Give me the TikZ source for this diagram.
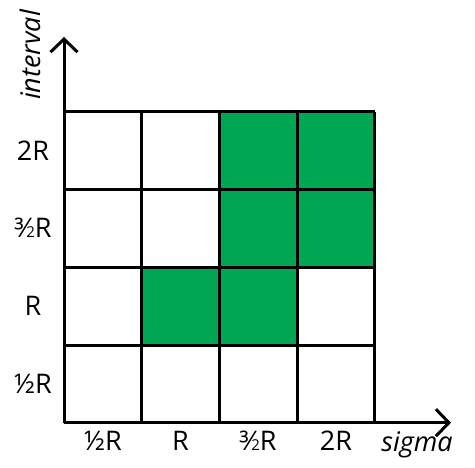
\documentclass[tikz,border=0pt]{standalone}
\usepackage{fontspec}
\setmainfont{Open Sans}
\usetikzlibrary{arrows.meta}
\definecolor{cellgreen}{HTML}{00A651}
\newcommand{\thrhalf}{³\kern-0.02em⁄\kern-0.02em{\fontsize{15}{15}\selectfont 2}}
\begin{document}
\begin{tikzpicture}[x=1pt,y=-1pt,
  gridline/.style={line width=3pt},
  axisline/.style={line width=3pt,-{Straight Barb[length=13pt,width=27pt,line width=3pt]}},
  lab/.style={font=\fontsize{27}{32}\selectfont,inner sep=0pt},
  axlab/.style={font=\fontsize{27}{32}\selectfont\itshape,inner sep=0pt}]
\useasboundingbox (0,0) rectangle (475,468);
\def\cw{77.7}
% green cells
\foreach \c/\r in {2/3,3/3,2/2,3/2,1/1,2/1}{
  \fill[cellgreen] (64+\c*\cw,422.7-\r*\cw-\cw) rectangle (64+\c*\cw+\cw,422.7-\r*\cw);
}
% grid
\foreach \i in {1,2,3,4}{
  \draw[gridline] (64+\i*\cw,112) -- (64+\i*\cw,422.7);
}
\foreach \i in {0,1,2,3}{
  \draw[gridline] (64,112+\i*\cw) -- (375,112+\i*\cw);
}
\coordinate (o) at (64,422.7);
\coordinate (ytip) at (64,37);
\coordinate (xtip) at (451,422.7);
\draw[axisline] (o) -- (ytip);
\draw[axisline] (o) -- (xtip);
% labels
\node[lab] (y1) at (33,150.5) {2R};
\node[lab] (y2) at (33,228) {\thrhalf R};
\node[lab] (y3) at (33,306) {R};
\node[lab] (y4) at (33,383.5) {½R};
\node[lab] (x1) at (103,441) {½R};
\node[lab] (x2) at (180.5,441) {R};
\node[lab] (x3) at (258,441) {\thrhalf R};
\node[lab] (x4) at (336,441) {2R};
\node[axlab] (sx) at (417,445) {sigma};
\node[axlab,rotate=90] (sy) at (30,55) {interval};
\end{tikzpicture}
\end{document}
